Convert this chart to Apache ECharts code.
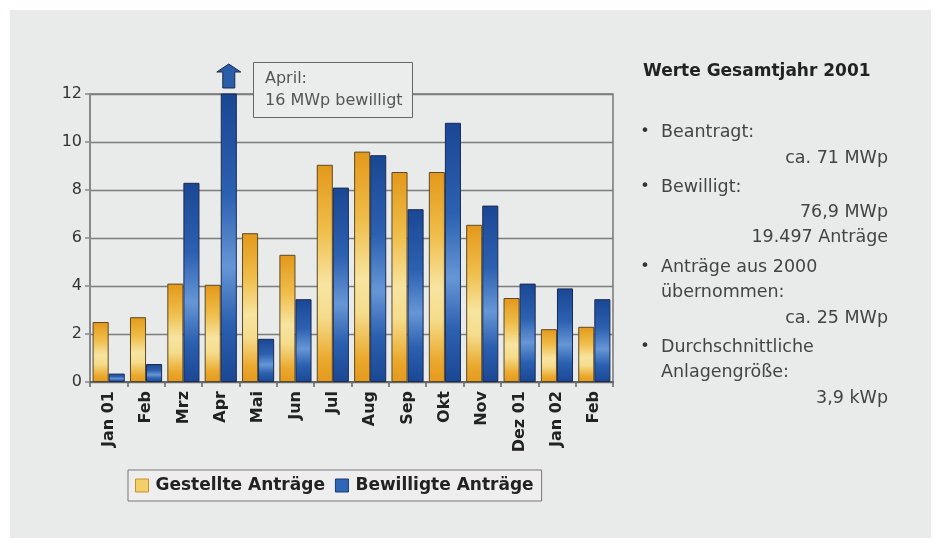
<!DOCTYPE html>
<html>
<head>
<meta charset="utf-8">
<script src="https://cdn.jsdelivr.net/npm/echarts@6/dist/echarts.min.js"></script>
<style>
html,body{margin:0;padding:0;background:#fff;}
#panel{position:absolute;left:10px;top:10px;width:921px;height:528px;background:#e9eaea;}
#chart{position:absolute;left:0;top:0;width:939px;height:547px;}
</style>
</head>
<body>
<div id="panel"></div>
<div id="chart"></div>
<script>
const categories = ['Jan 01','Feb','Mrz','Apr','Mai','Jun','Jul','Aug','Sep','Okt','Nov','Dez 01','Jan 02','Feb'];
const gestellte = [2.5, 2.7, 4.1, 4.05, 6.2, 5.3, 9.05, 9.6, 8.75, 8.75, 6.55, 3.5, 2.2, 2.3];
const bewilligte = [0.35, 0.75, 8.3, 16, 1.8, 3.45, 8.1, 9.45, 7.2, 10.8, 7.35, 4.1, 3.9, 3.45];
const seriesNames = ['Gestellte Anträge', 'Bewilligte Anträge'];
const yTicks = [0, 2, 4, 6, 8, 10, 12];
const noteText = ['April:', '16 MWp bewilligt'];
const panelTitle = 'Werte Gesamtjahr 2001';
const panelLines = [
  {t: 'Beantragt:', bullet: true},
  {t: 'ca. 71 MWp', right: true},
  {t: 'Bewilligt:', bullet: true},
  {t: '76,9 MWp', right: true},
  {t: '19.497 Anträge', right: true},
  {t: 'Anträge aus 2000', bullet: true},
  {t: 'übernommen:'},
  {t: 'ca. 25 MWp', right: true},
  {t: 'Durchschnittliche', bullet: true},
  {t: 'Anlagengröße:'},
  {t: '3,9 kWp', right: true}
];
const panelY = [132, 158, 187, 212, 237, 267, 292, 318, 347, 372, 398];

const FONT = 'DejaVu Sans';
const yMax = yTicks[yTicks.length - 1];
const aprIdx = categories.indexOf('Apr');
const chart = echarts.init(document.getElementById('chart'), null, {renderer: 'canvas'});

const goldGrad = new echarts.graphic.LinearGradient(0, 0, 0, 1, [
  {offset: 0, color: '#e3981a'}, {offset: 0.3, color: '#efbd4a'},
  {offset: 0.55, color: '#f7e4a0'}, {offset: 0.7, color: '#f5dc8c'},
  {offset: 0.9, color: '#eaa82c'}, {offset: 1, color: '#e49a1e'}]);
const blueGrad = new echarts.graphic.LinearGradient(0, 0, 0, 1, [
  {offset: 0, color: '#1a4794'}, {offset: 0.35, color: '#2c61b1'},
  {offset: 0.6, color: '#6696d6'}, {offset: 0.8, color: '#2b60b0'},
  {offset: 1, color: '#1a4794'}]);

const graphics = [];
graphics.push({type: 'text', left: 643, top: 63, z: 10,
  style: {text: panelTitle, font: 'bold 17px "DejaVu Sans"', fill: '#222'}});
panelLines.forEach((l, i) => {
  if (l.bullet) {
    graphics.push({type: 'text', x: 645, y: panelY[i], z: 10,
      style: {text: '•', font: '16px "DejaVu Sans"', fill: '#333', align: 'center', verticalAlign: 'middle'}});
  }
  graphics.push({type: 'text', x: l.right ? 888 : 661, y: panelY[i], z: 10,
    style: {text: l.t, font: '17.5px "DejaVu Sans"', fill: '#444',
      align: l.right ? 'right' : 'left', verticalAlign: 'middle'}});
});

const option = {
  animation: false,
  textStyle: {fontFamily: FONT},
  title: {
    text: noteText.join('\n'),
    left: 253, top: 62,
    padding: [6, 10, 6, 12],
    borderColor: '#666', borderWidth: 1,
    backgroundColor: '#ebecec',
    textStyle: {fontFamily: FONT, fontSize: 16, fontWeight: 'normal', color: '#555', lineHeight: 22}
  },
  legend: {
    left: 128, top: 470,
    padding: [7, 8, 7, 7],
    borderColor: '#777', borderWidth: 1, backgroundColor: '#eeeeee',
    itemWidth: 13, itemHeight: 13, itemGap: 10,
    icon: 'rect',
    textStyle: {fontFamily: FONT, fontSize: 17, fontWeight: 'bold', color: '#222', padding: [0, 0, 0, 2]},
    data: [
      {name: seriesNames[0], itemStyle: {color: '#f3cf6a', borderColor: '#c8902a', borderWidth: 1}},
      {name: seriesNames[1], itemStyle: {color: '#2f66b6', borderColor: '#1a3a70', borderWidth: 1}}
    ]
  },
  grid: {
    left: 90, right: 326, top: 94, bottom: 165,
    show: true, borderColor: '#777', borderWidth: 1.5, backgroundColor: 'transparent'
  },
  xAxis: {
    type: 'category', data: categories,
    axisLine: {lineStyle: {color: '#666', width: 2}},
    axisTick: {show: true, length: 5, lineStyle: {color: '#666', width: 1.5}},
    axisLabel: {rotate: 90, fontFamily: FONT, fontSize: 16, fontWeight: 'bold', color: '#222', margin: 9, interval: 0}
  },
  yAxis: {
    type: 'value', min: yTicks[0], max: yMax, interval: yTicks[1] - yTicks[0],
    axisLine: {show: true, lineStyle: {color: '#888', width: 2}},
    axisTick: {show: true, length: 5, lineStyle: {color: '#888', width: 1.5}},
    axisLabel: {fontFamily: FONT, fontSize: 16, color: '#333', margin: 8},
    splitLine: {lineStyle: {color: '#7c7c7c', width: 1.3}}
  },
  series: [
    {
      name: seriesNames[0], type: 'bar', data: gestellte,
      barGap: '0%', barCategoryGap: '14%',
      itemStyle: {color: goldGrad, borderColor: '#5a4a28', borderWidth: 1}
    },
    {
      name: seriesNames[1], type: 'bar', data: bewilligte, clip: true,
      barGap: '0%', barCategoryGap: '14%',
      itemStyle: {color: blueGrad, borderColor: '#1a2a50', borderWidth: 1},
      markPoint: {
        symbol: 'path://M12,0 L24,8 L18,8 L18,24 L6,24 L6,8 L0,8 Z',
        symbolSize: [24, 24],
        symbolOffset: [0, -18],
        label: {show: false},
        itemStyle: {color: '#2a5ea8', borderColor: '#1a2a50', borderWidth: 1},
        data: [{coord: [aprIdx, Math.min(bewilligte[aprIdx], yMax)]}]
      }
    }
  ],
  graphic: graphics
};
chart.setOption(option);
</script>
</body>
</html>
